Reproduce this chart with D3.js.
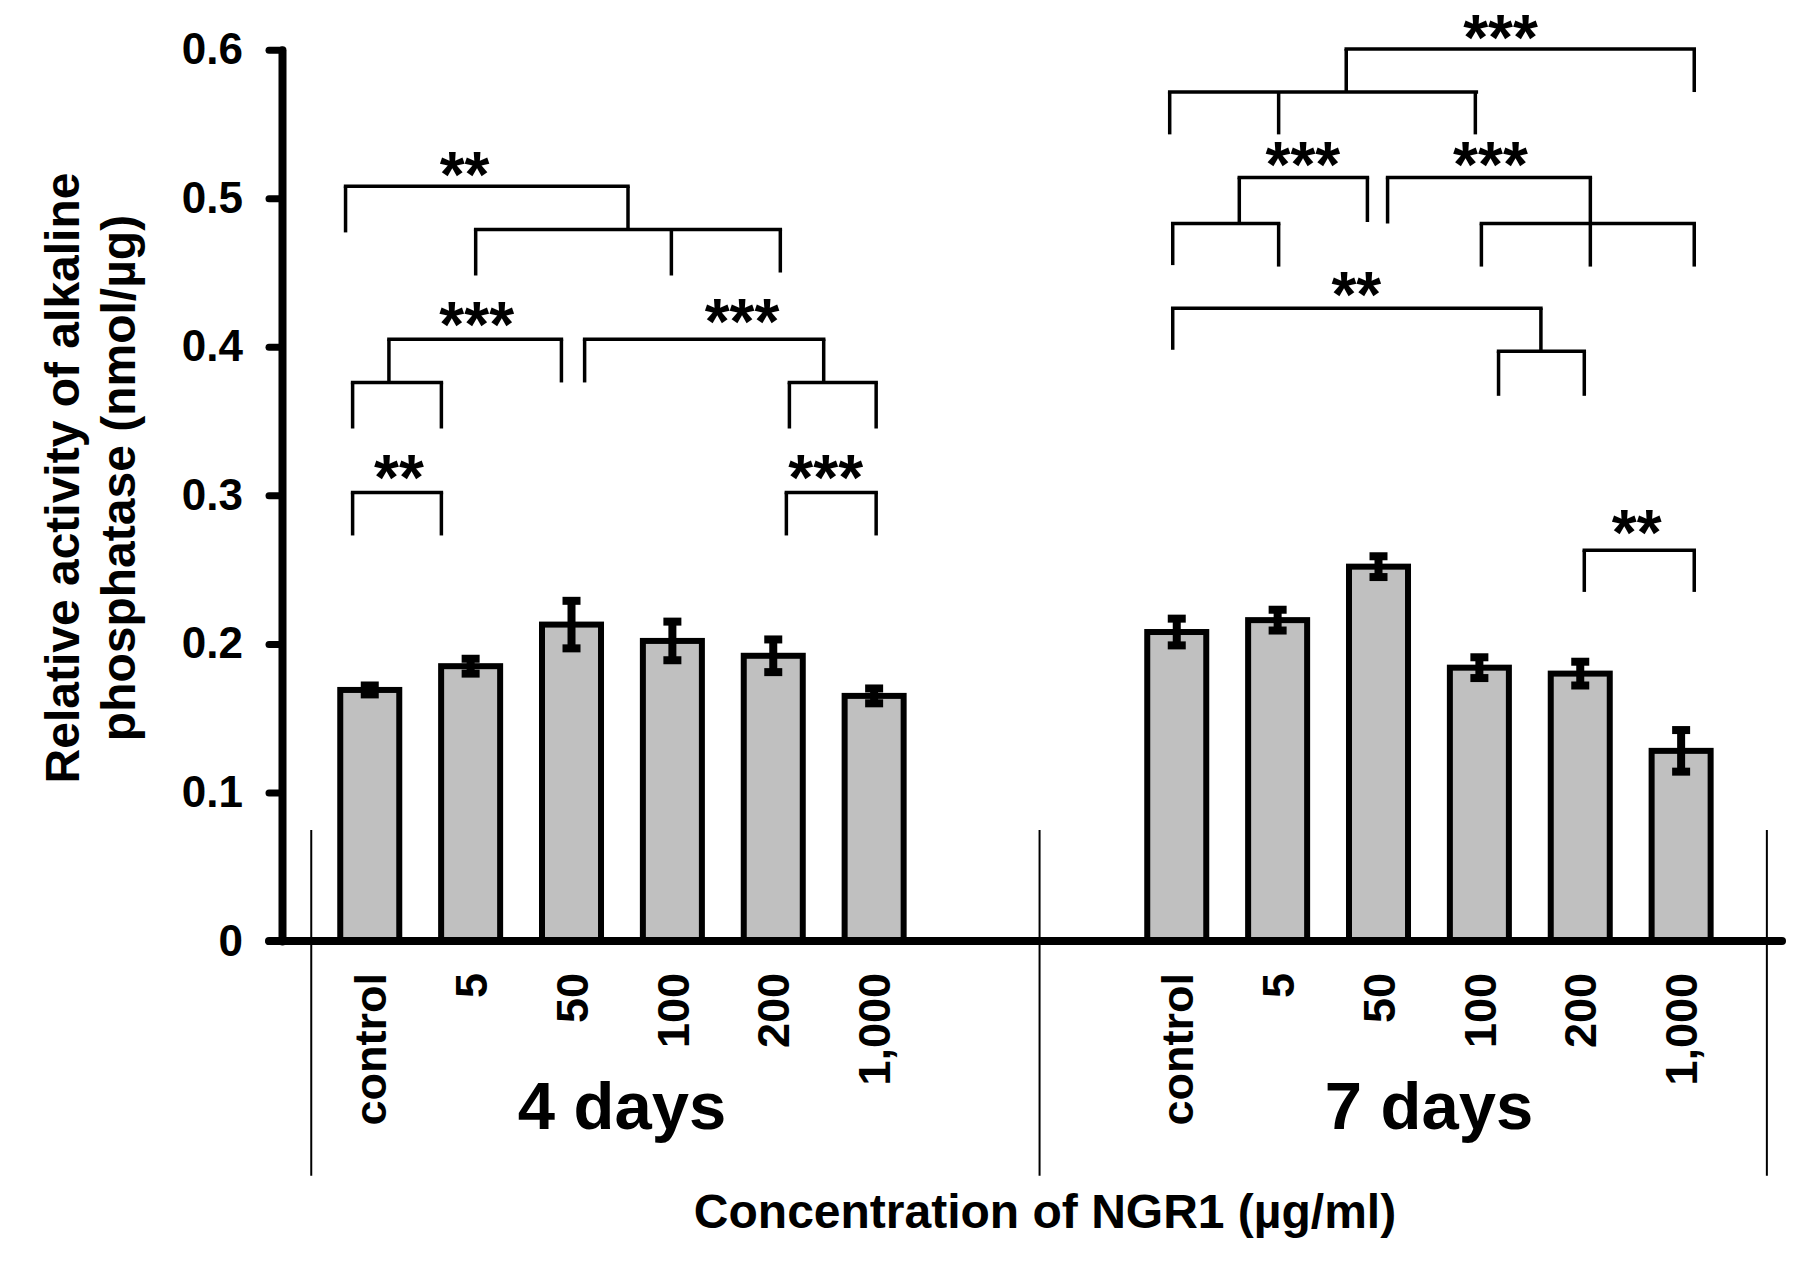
<!DOCTYPE html>
<html>
<head>
<meta charset="utf-8">
<script src="https://cdn.jsdelivr.net/npm/d3@7"></script>
<style>
  body { margin: 0; background: #fff; }
  text { font-family: "Liberation Sans", Arial, sans-serif; font-weight: bold; fill: #000; }
</style>
</head>
<body>
<div id="chart"></div>
<script>
// ---- data ----
var groups = ["4 days", "7 days"];
var concentrations = ["control", "5", "50", "100", "200", "1,000"];
var activity4d = [0.169, 0.185, 0.213, 0.202, 0.192, 0.165];
var sem4d = [0.003, 0.005, 0.016, 0.013, 0.011, 0.005];
var activity7d = [0.208, 0.216, 0.252, 0.184, 0.180, 0.128];
var sem7d = [0.009, 0.007, 0.007, 0.007, 0.008, 0.014];
var groupStart = [0, 8];            // slot of first bar in each group
var yTicks = [0, 0.1, 0.2, 0.3, 0.4, 0.5, 0.6];
var yTickLabels = ["0", "0.1", "0.2", "0.3", "0.4", "0.5", "0.6"];

// significance brackets: horizontal at y from x1 to x2 (slot units), legs drop to given value
var brackets = [
  {y: 0.302, x1: -0.17, x2: 0.71, legs: [[-0.17, 0.273], [0.71, 0.273]]},
  {y: 0.302, x1: 4.13, x2: 5.02, legs: [[4.13, 0.273], [5.02, 0.273]]},
  {y: 0.376, x1: -0.17, x2: 0.71, legs: [[-0.17, 0.345], [0.71, 0.345]]},
  {y: 0.405, x1: 0.19, x2: 1.90, legs: [[0.19, 0.376], [1.90, 0.376]]},
  {y: 0.376, x1: 4.16, x2: 5.02, legs: [[4.16, 0.345], [5.02, 0.345]]},
  {y: 0.405, x1: 2.13, x2: 4.50, legs: [[2.13, 0.376], [4.50, 0.376]]},
  {y: 0.479, x1: 1.05, x2: 4.07, legs: [[1.05, 0.448], [2.99, 0.448], [4.07, 0.450]]},
  {y: 0.508, x1: -0.24, x2: 2.56, legs: [[-0.24, 0.477], [2.56, 0.479]]},
  {y: 0.5715, x1: 7.93, x2: 10.97, legs: [[7.93, 0.543], [9.01, 0.543], [10.96, 0.543]]},
  {y: 0.6005, x1: 9.68, x2: 13.13, legs: [[9.68, 0.5715], [13.13, 0.5715]]},
  {y: 0.483, x1: 7.96, x2: 9.01, legs: [[7.96, 0.455], [9.01, 0.454]]},
  {y: 0.514, x1: 8.62, x2: 9.89, legs: [[8.62, 0.483], [9.89, 0.484]]},
  {y: 0.483, x1: 11.02, x2: 13.13, legs: [[11.02, 0.454], [13.13, 0.454]]},
  {y: 0.514, x1: 10.09, x2: 12.10, legs: [[10.09, 0.483], [12.10, 0.454]]},
  {y: 0.426, x1: 7.96, x2: 11.61, legs: [[7.96, 0.398], [11.61, 0.397]]},
  {y: 0.397, x1: 11.19, x2: 12.04, legs: [[11.19, 0.367], [12.04, 0.367]]},
  {y: 0.263, x1: 12.04, x2: 13.13, legs: [[12.04, 0.235], [13.13, 0.235]]}
];
var stars = [
  {x: 0.94, y: 0.522, t: "**"},
  {x: 1.06, y: 0.421, t: "***"},
  {x: 3.69, y: 0.423, t: "***"},
  {x: 0.29, y: 0.318, t: "**"},
  {x: 4.52, y: 0.318, t: "***"},
  {x: 11.21, y: 0.614, t: "***"},
  {x: 9.25, y: 0.529, t: "***"},
  {x: 11.11, y: 0.529, t: "***"},
  {x: 9.78, y: 0.441, t: "**"},
  {x: 12.56, y: 0.281, t: "**"}
];

var width = 1795, height = 1264;

var svg = d3.select("#chart").append("svg")
  .attr("width", width)
  .attr("height", height);

svg.append("rect").attr("width", width).attr("height", height).attr("fill", "#fff");

// slot scale: bars sit on integer slots, 4 days 0..5, 7 days 8..13
var x = d3.scaleLinear().domain([-0.87, 14.0]).range([282, 1782]);
var y = d3.scaleLinear().domain([0, 0.6]).range([941, 49.7]);
var barW = x(0.585) - x(0);

// flatten bars
var bars = [];
[activity4d, activity7d].forEach(function(vals, g) {
  var errs = g == 0 ? sem4d : sem7d;
  vals.forEach(function(v, i) {
    bars.push({slot: groupStart[g] + i, value: v, err: errs[i], label: concentrations[i]});
  });
});

// bars
svg.append("g").selectAll("rect")
  .data(bars)
  .enter()
  .append("rect")
    .attr("x", function(d) { return x(d.slot) - barW / 2; })
    .attr("y", function(d) { return y(d.value); })
    .attr("width", barW)
    .attr("height", function(d) { return y(0) - y(d.value); })
    .attr("fill", "#c0c0c0")
    .attr("stroke", "#000")
    .attr("stroke-width", 6);

// error bars
var eb = svg.append("g").attr("stroke", "#000").attr("stroke-width", 8);
eb.selectAll(".stem")
  .data(bars)
  .enter()
  .append("line")
    .attr("x1", function(d) { return x(d.slot); })
    .attr("x2", function(d) { return x(d.slot); })
    .attr("y1", function(d) { return y(d.value + d.err); })
    .attr("y2", function(d) { return y(d.value - d.err); });
[1, -1].forEach(function(s) {
  eb.selectAll(".cap" + s)
    .data(bars)
    .enter()
    .append("line")
      .attr("x1", function(d) { return x(d.slot) - 9; })
      .attr("x2", function(d) { return x(d.slot) + 9; })
      .attr("y1", function(d) { return y(d.value + s * d.err); })
      .attr("y2", function(d) { return y(d.value + s * d.err); });
});

// group separators
svg.append("g").selectAll("line")
  .data([-0.58, 6.64, 13.85])
  .enter()
  .append("line")
    .attr("x1", function(d) { return x(d); })
    .attr("x2", function(d) { return x(d); })
    .attr("y1", y(0.0747))
    .attr("y2", y(-0.158))
    .attr("stroke", "#000")
    .attr("stroke-width", 2);

// y axis
var yAxis = svg.append("g")
  .attr("transform", "translate(" + x(-0.87) + ",0)")
  .call(d3.axisLeft(y)
    .tickValues(yTicks)
    .tickFormat(function(d, i) { return yTickLabels[i]; })
    .tickSize(13)
    .tickSizeOuter(0)
    .tickPadding(26));
yAxis.select(".domain")
  .attr("stroke-width", 8)
  .attr("stroke-linecap", "round");
yAxis.selectAll(".tick line")
  .attr("stroke-width", 7)
  .attr("stroke-linecap", "round");
yAxis.selectAll(".tick text")
  .style("font-size", "44px")
  .style("font-family", "'Liberation Sans', Arial, sans-serif")
  .style("font-weight", "bold");

// zero line
svg.append("line")
  .attr("x1", x(-0.87) - 13)
  .attr("x2", x(14.0))
  .attr("y1", y(0))
  .attr("y2", y(0))
  .attr("stroke", "#000")
  .attr("stroke-width", 8)
  .attr("stroke-linecap", "round");

// category labels, rotated, top-aligned just under the axis
svg.append("g").selectAll("text")
  .data(bars)
  .enter()
  .append("text")
    .attr("transform", function(d) { return "translate(" + x(d.slot) + "," + y(-0.0215) + ") rotate(-90)"; })
    .attr("dy", "0.36em")
    .attr("text-anchor", "end")
    .style("font-size", "45px")
    .text(function(d) { return d.label; });

// group labels
svg.append("g").selectAll("text")
  .data(groups)
  .enter()
  .append("text")
    .attr("x", function(d, i) { return x(groupStart[i] + 2.5); })
    .attr("y", 1129)
    .attr("text-anchor", "middle")
    .style("font-size", "67px")
    .text(function(d) { return d; });

// axis titles
svg.append("text")
  .attr("x", 1045)
  .attr("y", 1228)
  .attr("text-anchor", "middle")
  .style("font-size", "48px")
  .text("Concentration of NGR1 (\u00b5g/ml)");

var yTitle = svg.append("text")
  .attr("transform", "translate(79,478) rotate(-90)")
  .attr("text-anchor", "middle")
  .style("font-size", "48px");
yTitle.append("tspan").attr("x", 0).attr("y", 0).text("Relative activity of alkaline");
yTitle.append("tspan").attr("x", 0).attr("y", 56).text("phosphatase (nmol/\u00b5g)");

// significance brackets
var br = svg.append("g").attr("stroke", "#000").attr("stroke-width", 3.5).attr("fill", "none");
brackets.forEach(function(b) {
  br.append("line")
    .attr("x1", x(b.x1)).attr("x2", x(b.x2))
    .attr("y1", y(b.y)).attr("y2", y(b.y))
    .attr("stroke-linecap", "square");
  b.legs.forEach(function(l) {
    br.append("line")
      .attr("x1", x(l[0])).attr("x2", x(l[0]))
      .attr("y1", y(b.y)).attr("y2", y(l[1]));
  });
});

svg.append("g").selectAll("text")
  .data(stars)
  .enter()
  .append("text")
    .attr("x", function(d) { return x(d.x); })
    .attr("y", function(d) { return y(d.y) + 0.49 * 64; })
    .attr("text-anchor", "middle")
    .style("font-size", "64px")
    .text(function(d) { return d.t; });
</script>
</body>
</html>
